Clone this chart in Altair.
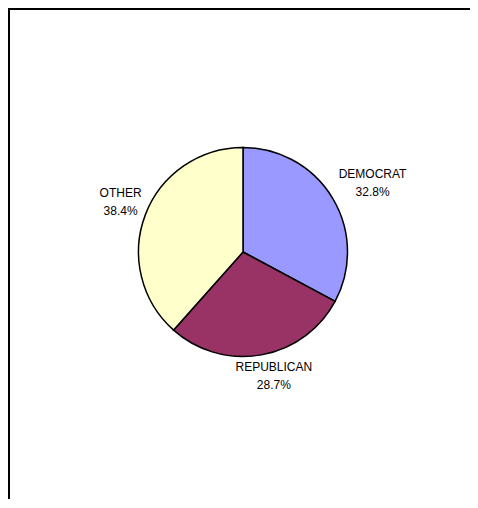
import altair as alt
import pandas as pd

parties = ["DEMOCRAT", "REPUBLICAN", "OTHER"]
shares = [32.8, 28.7, 38.4]
colors = ["#9999FF", "#993366", "#FFFFCC"]
order = [0, 1, 2]

total = sum(shares)

df = pd.DataFrame({"party": parties, "share": shares, "order": order})

W, H = 461, 490
CX, CY = 234, 243
R = 104.5

theta_scale = alt.Scale(domain=[0, total])

base = (
    alt.Chart(df)
    .transform_window(cum="sum(share)", sort=[{"field": "order"}], frame=[None, 0])
    .transform_calculate(
        start="datum.cum - datum.share",
        mid="datum.cum - datum.share / 2",
        label="[datum.party, format(datum.share, '.1f') + '%']",
    )
)

pie = base.mark_arc(radius=R, stroke="black", strokeWidth=1.5).encode(
    theta=alt.Theta("start:Q", scale=theta_scale),
    theta2="cum:Q",
    color=alt.Color("party:N", scale=alt.Scale(domain=parties, range=colors), legend=None),
    x=alt.value(CX),
    y=alt.value(CY),
)


def label_layer(party, radius, dx=0, dy=0):
    return (
        base.transform_filter(alt.datum.party == party)
        .mark_text(
            align="center",
            baseline="middle",
            font="Liberation Sans",
            fontSize=12,
            lineHeight=18,
            color="black",
            dx=dx,
            dy=dy,
        )
        .encode(
            theta=alt.Theta("mid:Q", scale=theta_scale),
            radius=alt.value(radius),
            text="label:N",
            x=alt.value(CX),
            y=alt.value(CY),
        )
    )


frame_left = alt.Chart(df).mark_rule(color="black", strokeWidth=2).encode(
    x=alt.value(0), y=alt.value(0), y2=alt.value(H + 20)
)
frame_top = alt.Chart(df).mark_rule(color="black", strokeWidth=2).encode(
    x=alt.value(-1), x2=alt.value(W + 20), y=alt.value(0)
)

chart = (
    alt.layer(
        frame_left,
        frame_top,
        pie,
        label_layer("DEMOCRAT", 151),
        label_layer("REPUBLICAN", 119, dx=10, dy=-2),
        label_layer("OTHER", 131, dy=-12),
    )
    .resolve_scale(theta="shared")
    .properties(
        width=W,
        height=H,
        autosize=alt.AutoSizeParams(type="none"),
        padding={"left": 1, "top": 1, "right": 0, "bottom": 0},
        background="white",
    )
    .configure_view(stroke=None)
)

chart.save("out.html", embed_options={"renderer": "svg", "actions": False})
